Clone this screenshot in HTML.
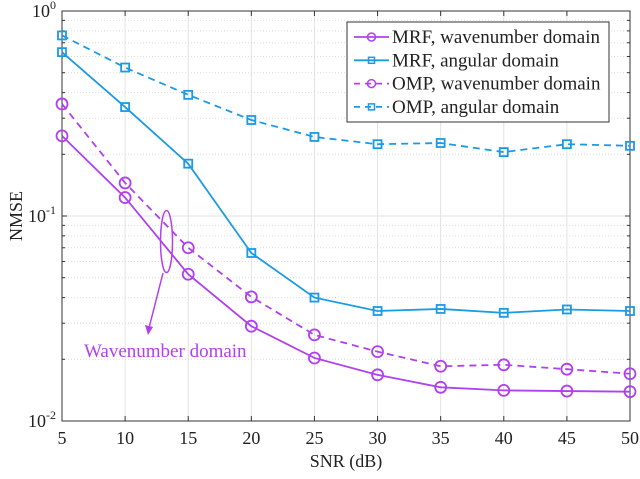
<!DOCTYPE html>
<html><head><meta charset="utf-8"><style>
body{margin:0;background:#fff}
svg text{font-family:"Liberation Serif",serif;fill:#222}
</style></head><body>
<svg id="chart" width="640" height="474" xmlns="http://www.w3.org/2000/svg">
<g id="grid"></g>
<g id="axes"></g>
<g id="series"></g>
<g id="legend"></g>
<g>
<ellipse cx="166.5" cy="241.5" rx="6" ry="31" fill="none" stroke="#b040f0" stroke-width="1.5"/>
<line x1="163" y1="273" x2="149" y2="328" stroke="#b040f0" stroke-width="1.5"/>
<path d="M145,325 L148,335 L153,327 Z" fill="#b040f0"/>
<text x="84" y="357" font-size="19" style="fill:#b040f0">Wavenumber domain</text>
</g>
</svg>
<script>
const snr=[5,10,15,20,25,30,35,40,45,50];
const mrfWave=[0.246,0.123,0.052,0.029,0.0203,0.0168,0.0146,0.0141,0.014,0.0139];
const mrfAng=[0.63,0.34,0.18,0.066,0.040,0.0344,0.0352,0.0337,0.035,0.0344];
const ompWave=[0.352,0.145,0.070,0.0403,0.0263,0.0218,0.0185,0.0188,0.0179,0.017];
const ompAng=[0.76,0.53,0.39,0.294,0.243,0.224,0.227,0.205,0.224,0.22];
const xTicks=[5,10,15,20,25,30,35,40,45,50];
const yDecades=[-2,-1,0];
const seriesNames=["MRF, wavenumber domain","MRF, angular domain","OMP, wavenumber domain","OMP, angular domain"];

const L=62,R=630,T=11,B=421;
const X=v=>L+(v-5)/(50-5)*(R-L);
const Y=v=>T+(0-Math.log10(v))/2*(B-T);
const NS="http://www.w3.org/2000/svg";
function mk(tag,attrs,parent){const e=document.createElementNS(NS,tag);for(const k in attrs)e.setAttribute(k,attrs[k]);parent.appendChild(e);return e;}
const grid=document.getElementById('grid'),axes=document.getElementById('axes'),ser=document.getElementById('series'),leg=document.getElementById('legend');
mk('rect',{x:L,y:T,width:R-L,height:B-T,fill:'#fff'},grid);
xTicks.forEach(t=>{const l=mk('line',{x1:X(t),x2:X(t),y1:T,y2:B,stroke:'#e2e2e2','stroke-width':1},grid);
});
for(let d=-2;d<0;d++){for(let m=2;m<=9;m++){const v=m*Math.pow(10,d);const l=mk('line',{x1:L,x2:R,y1:Y(v),y2:Y(v),stroke:'#dcdcdc','stroke-width':1,'stroke-dasharray':'1,2'},grid);
}}
yDecades.forEach(d=>{const l=mk('line',{x1:L,x2:R,y1:Y(Math.pow(10,d)),y2:Y(Math.pow(10,d)),stroke:'#e2e2e2','stroke-width':1},grid);
});
const fr=mk('rect',{x:L,y:T,width:R-L,height:B-T,fill:'none',stroke:'#333','stroke-width':1},axes);

xTicks.forEach(t=>{mk('line',{x1:X(t),x2:X(t),y1:B,y2:B-5,stroke:'#333'},axes);mk('line',{x1:X(t),x2:X(t),y1:T,y2:T+5,stroke:'#333'},axes);
const tx=mk('text',{x:X(t),y:B+23,'text-anchor':'middle','font-size':18},axes);tx.textContent=t;
});
yDecades.forEach(d=>{const y=Y(Math.pow(10,d));mk('line',{x1:L,x2:L+5,y1:y,y2:y,stroke:'#333'},axes);mk('line',{x1:R,x2:R-5,y1:y,y2:y,stroke:'#333'},axes);
const tx=mk('text',{x:L-6,y:y+6,'text-anchor':'end','font-size':18},axes);tx.innerHTML='10<tspan dy="-8" font-size="12">'+d+'</tspan>';
});
for(let d=-2;d<0;d++){for(let m=2;m<=9;m++){const y=Y(m*Math.pow(10,d));mk('line',{x1:L,x2:L+3,y1:y,y2:y,stroke:'#333'},axes);mk('line',{x1:R,x2:R-3,y1:y,y2:y,stroke:'#333'},axes);}}
const xt=mk('text',{x:(L+R)/2,y:467,'text-anchor':'middle','font-size':18},axes);xt.textContent='SNR (dB)';

const yt=mk('text',{x:0,y:0,'text-anchor':'middle','font-size':18,transform:'translate(22,216) rotate(-90)'},axes);yt.textContent='NMSE';


const P='#b040f0',Bl='#1a9be6';
const defs=[[mrfWave,P,'',false],[mrfAng,Bl,'',true],[ompWave,P,'7,5',false],[ompAng,Bl,'7,5',true]];
function marker(x,y,sq,c,g){if(sq)mk('rect',{x:x-4,y:y-4,width:8,height:8,fill:'none',stroke:c,'stroke-width':1.8},g);
else mk('circle',{cx:x,cy:y,r:5.5,fill:'none',stroke:c,'stroke-width':1.8},g);}
defs.forEach((s,i)=>{const g=mk('g',{},ser);

const pts=s[0].map((v,j)=>X(snr[j])+','+Y(v)).join(' ');
const a={points:pts,fill:'none',stroke:s[1],'stroke-width':1.8};if(s[2])a['stroke-dasharray']=s[2];
mk('polyline',a,g);s[0].forEach((v,j)=>marker(X(snr[j]),Y(v),s[3],s[1],g));});
const lb=mk('rect',{x:347,y:22,width:262,height:100,fill:'#fff',stroke:'#333','stroke-width':1},leg);

defs.forEach((s,i)=>{const y=37+i*23.3;const g=mk('g',{},leg);

const a={x1:354,x2:389,y1:y,y2:y,stroke:s[1],'stroke-width':1.8};if(s[2])a['stroke-dasharray']='6,5';
mk('line',a,g);if(s[3])mk('rect',{x:368.5,y:y-3,width:6,height:6,fill:'none',stroke:s[1],'stroke-width':1.5},g);
else mk('circle',{cx:371.5,cy:y,r:4,fill:'none',stroke:s[1],'stroke-width':1.5},g);
const t=mk('text',{x:392,y:y+6,'font-size':19},g);t.textContent=seriesNames[i];});
</script>
</body></html>
